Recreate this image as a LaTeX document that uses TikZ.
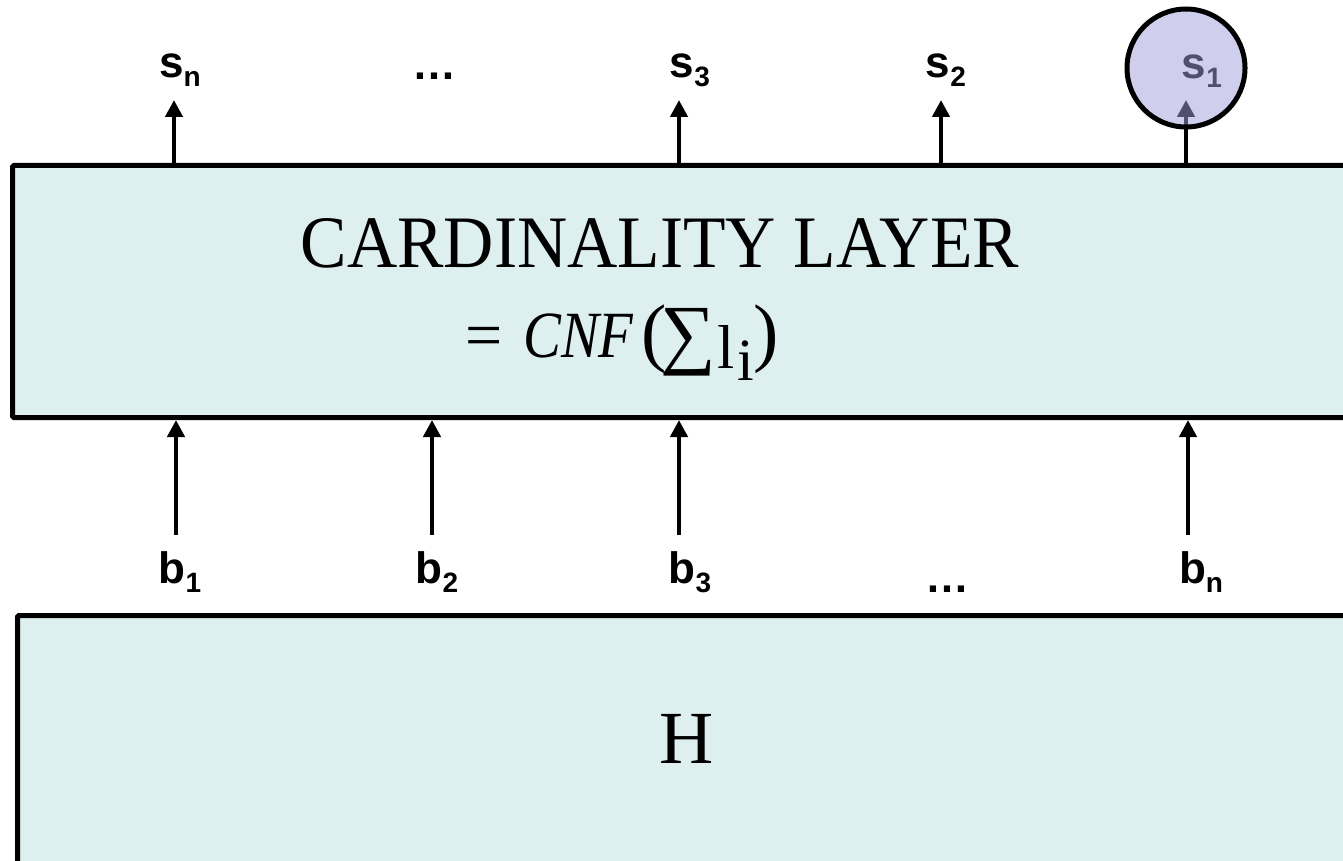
\documentclass[tikz,border=0pt]{standalone}
\usepackage{fontspec}
\setmainfont{Liberation Serif}
\newfontfamily\labfont{Liberation Sans}
\usetikzlibrary{arrows.meta}
\definecolor{boxfill}{RGB}{222,239,239}
\definecolor{circfill}{RGB}{160,160,220}
\newcommand{\lbl}[2]{{\labfont\bfseries\fontsize{44}{44}\selectfont #1\raisebox{-9pt}{\fontsize{28}{28}\selectfont #2}}}
\newcommand{\lbldots}{{\labfont\bfseries\fontsize{44}{44}\selectfont …}}
\newcommand{\pc}[2]{\makebox[#1][l]{#2}}
\tikzset{
  layerbox/.style={draw=black, line width=5pt, fill=boxfill, inner sep=0pt, anchor=north west, rounded corners=1.5pt},
  arr/.style={line width=4.8pt, -{Triangle[width=17pt,length=17pt]}},
  slab/.style={inner sep=0pt, anchor=base},
}
\begin{document}
\begin{tikzpicture}[x=1pt,y=-1pt]
\useasboundingbox (0,0) rectangle (1343,861);
\begin{scope}
\clip (0,0) rectangle (1343,861);
% boxes
\node[layerbox, minimum width=1360pt, minimum height=252pt] (card) at (10,163) {};
\node[layerbox, minimum width=1360pt, minimum height=300pt] (hbox) at (15,613) {};
\end{scope}
% texts in boxes
\node[slab] (t1) at (660,267) {\scalebox{0.94}[1]{\fontsize{74}{74}\selectfont CARDINALITY LAYER}};
\node[inner sep=0pt, anchor=base west] (t2) at (465,357) {\fontsize{66}{66}\selectfont
  \pc{58pt}{=}%
  \pc{118pt}{\scalebox{0.86}[1]{\textit{CNF}}}%
  \pc{19pt}{\fontsize{76}{76}\selectfont (}%
  \pc{57pt}{\raisebox{-2pt}{\fontsize{78}{78}\selectfont ∑}}%
  \pc{20pt}{\fontsize{62}{62}\selectfont\raisebox{-11pt}{l}}%
  \pc{16pt}{\fontsize{60}{60}\selectfont\raisebox{-23pt}{i}}%
  {\fontsize{76}{76}\selectfont )}};
\node[slab] (h) at (687,763) {\fontsize{75}{75}\selectfont H};
% top labels
\coordinate (tn) at (174,100);
\coordinate (t3) at (679,100);
\coordinate (t2c) at (941,100);
\coordinate (t1c) at (1186,100);
\node[slab] (sn) at (180,78) {\lbl{s}{n}};
\node[slab] (sdots) at (434,80) {\lbldots};
\node[slab] (s3) at (690,78) {\lbl{s}{3}};
\node[slab] (s2) at (946,78) {\lbl{s}{2}};
\node[slab] (s1) at (1202,79) {\lbl{s}{1}};
\draw[arr] (card.north -| tn) -- (tn);
\draw[arr] (card.north -| t3) -- (t3);
\draw[arr] (card.north -| t2c) -- (t2c);
\draw[arr] (card.north -| t1c) -- (t1c);
% highlight circle over s1
\node[circle, draw=black, line width=5pt, fill=circfill, fill opacity=0.5, minimum size=118pt, inner sep=0pt] (c1) at (1186,68) {};
% bottom labels
\coordinate (a1) at (176,535);
\coordinate (a2) at (432,535);
\coordinate (a3) at (679,535);
\coordinate (an) at (1188,535);
\node[slab] (b1) at (180,583) {\lbl{b}{1}};
\node[slab] (b2) at (437,583) {\lbl{b}{2}};
\node[slab] (b3) at (690,583) {\lbl{b}{3}};
\node[slab] (bdots) at (947,592) {\lbldots};
\node[slab] (bn) at (1201,583) {\lbl{b}{n}};
\draw[arr] (a1) -- (a1 |- card.south);
\draw[arr] (a2) -- (a2 |- card.south);
\draw[arr] (a3) -- (a3 |- card.south);
\draw[arr] (an) -- (an |- card.south);
\end{tikzpicture}
\end{document}
